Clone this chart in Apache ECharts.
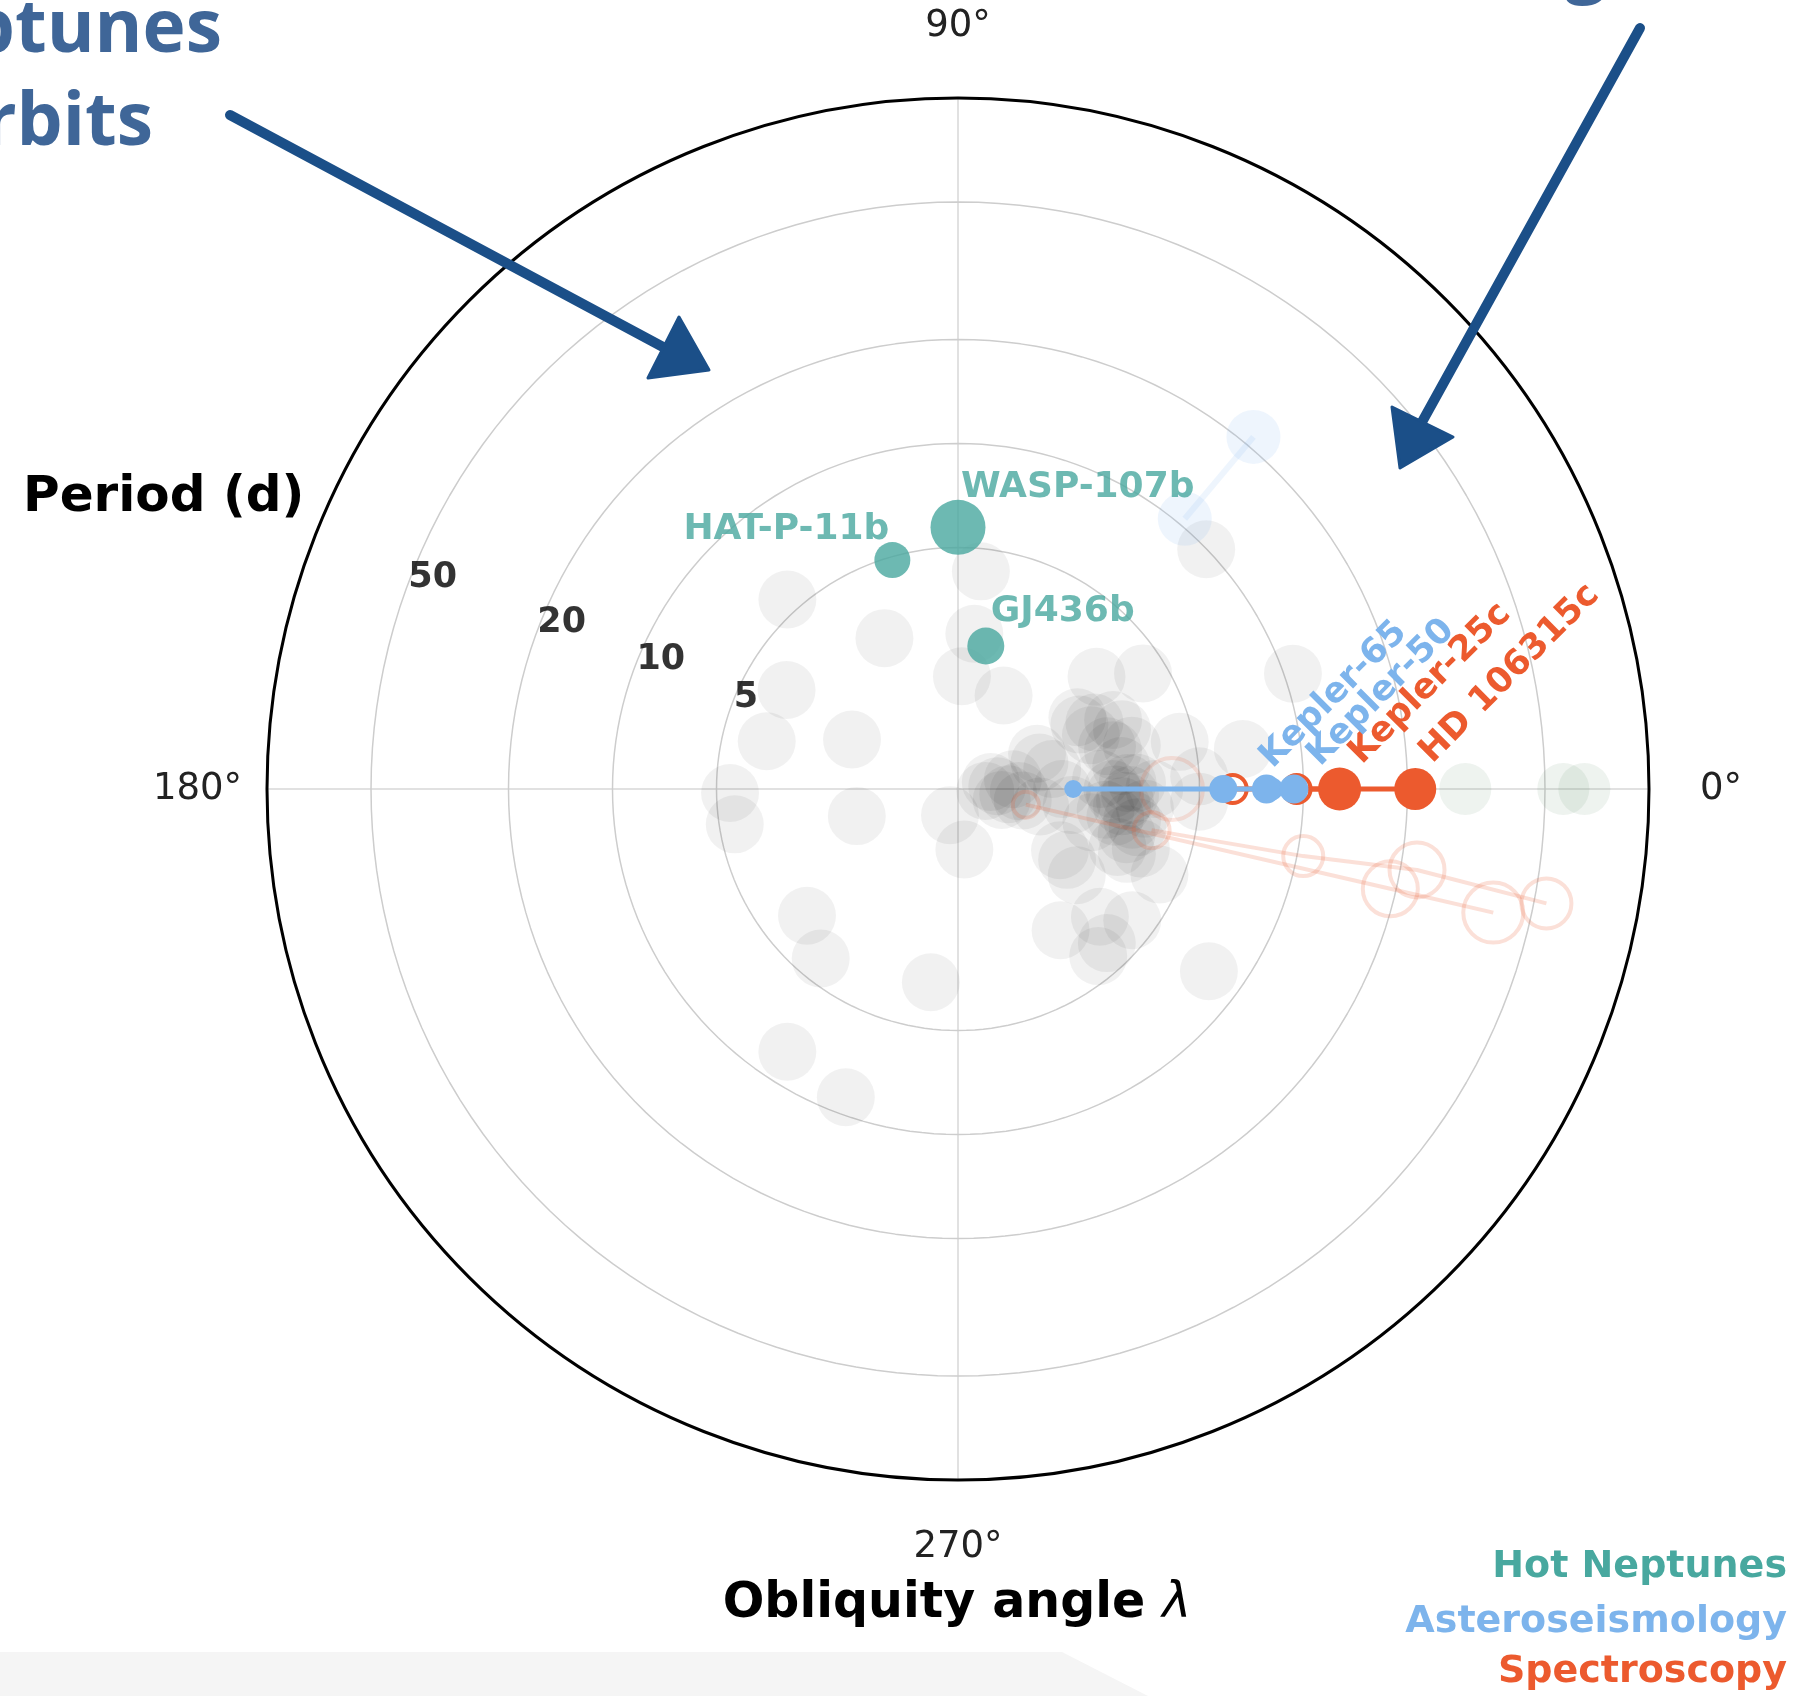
<!DOCTYPE html>
<html>
<head>
<meta charset="utf-8">
<script src="https://cdn.jsdelivr.net/npm/echarts@6/dist/echarts.min.js"></script>
<style>
  html, body { margin: 0; padding: 0; background: #ffffff; }
  #chart { width: 1793px; height: 1696px; }
</style>
</head>
<body>
<div id="chart"></div>
<script>
// ---- axis ticks ----
const periodTicks = [5, 10, 20, 50];          // days, log radial grid
const angleTicks = [0, 90, 180, 270];         // degrees

// ---- background population: period (d) and obliquity (deg) ----
const otherPeriods = [
  // scattered systems
  5.47, 3.06, 3.74, 3.72, 2.18, 4.57, 4.51, 2.01, 1.20, 1.50,
  3.72, 4.28, 3.67, 8.07, 8.90, 3.20, 4.30, 2.83, 2.12, 2.00,
  2.21, 2.66, 2.53, 4.28, 3.28, 4.53, 5.00, 6.80, 10.6, 2.38,
  3.34, 4.30, 3.57, 5.00, 7.90, 4.28, 4.28, 4.17, 9.97,
  // mildly misaligned hot Jupiters
  1.78, 1.77, 1.90, 3.10, 2.81, 2.50, 2.60, 3.30,
  // aligned hot Jupiters near 3 d
  3.05, 2.90, 3.20, 2.80, 3.30, 3.10, 2.70, 3.50, 3.00, 2.60,
  3.40, 3.60, 2.90, 3.20, 2.75, 3.70, 2.50, 3.15, 3.00, 3.10,
  2.85, 3.25,
  // aligned short periods
  1.30, 1.40, 1.25, 1.50, 1.35, 1.45, 1.55, 1.20,
  1.75, 2.00, 2.15
];
const otherLambda = [
  132, 116, 150, 166, 155, 181, 189, 195, 253, 276,
  220, 231, 262, 237, 250, -54, 84, 84, 88, 64,
  -31, -36, 31, 32, 39, 12, 3, 8, 19, -33,
  -21, -23, -42, -3, -36, -37, -50, -46, 44,
  24, 18, 12, 24, 16, 28, 22, 14,
  -4, -10, -15, 0, 2, -20, -8, -6, 8, 4,
  -12, -18, 14, 20, 26, 0, -14, -2, -6, 2,
  -2, -10,
  4, -6, 12, -2, -14, 10, -10, -4,
  -12, 0, -8
];

// ---- faint Neptune-size planets on the aligned axis ----
const paleNeptunePeriods = [29.4, 56.5, 65.0];
const paleNeptuneLambda = [0, 0, 0];

// ---- hot Neptunes ----
const hotNeptuneNames = ['WASP-107b', 'HAT-P-11b', 'GJ436b'];
const hotNeptunePeriods = [5.72, 4.89, 2.64];
const hotNeptuneLambda = [90, 106, 79];

// ---- asteroseismology systems ----
const kepler65Periods = [2.155, 5.859, 8.131];
const kepler65Lambda = [0, 0, 0];
const kepler50Periods = [7.81, 9.38];
const kepler50Lambda = [0, 0];
const kepler56Periods = [10.5, 21.4];
const kepler56Lambda = [50, 50];

// ---- spectroscopy systems ----
const kepler25Periods = [6.24, 12.72];
const kepler25Lambda = [0, 0];
const hd106315Periods = [9.55, 21.06];
const hd106315Lambda = [0, 0];
const kepler9Periods = [1.59, 19.24, 38.91];
const kepler9Lambda = [-13, -13, -13];
const kepler89Periods = [3.74, 10.42, 22.34, 54.32];
const kepler89Lambda = [-12, -11, -10, -11];
const wasp47Periods = [4.16];
const wasp47Lambda = [0];

// ---- colours & fonts ----
const TEAL = '#48a89f';
const BLUE = '#7db4ec';
const RED = '#ec5a2e';
const RED_FADED = 'rgba(236,90,46,0.19)';
const BLUE_FADED = 'rgba(125,180,236,0.13)';
const INK = '#3f6698';
const ARROW = '#1b4f88';
const FONT = 'DejaVu Sans';

const norm = a => ((a % 360) + 360) % 360;
const pairs = (periods, lambdas) => periods.map((p, i) => [p, norm(lambdas[i])]);

// ring samples for the period grid
const ringAngles = [];
for (let a = 0; a <= 360; a += 2) ringAngles.push(a);

const ringSeries = periodTicks.map(p => ({
  type: 'line', coordinateSystem: 'polar', silent: true, z: 1,
  symbol: 'none',
  lineStyle: { color: '#cdcdcd', width: 1.5 },
  data: ringAngles.map(a => [p, a])
}));

// symbol sizes for named planets
const markerSize = {
  'WASP-107b': 55, 'HAT-P-11b': 36, 'GJ436b': 37,
  'Kepler-65b': 18, 'Kepler-65c': 28, 'Kepler-65d': 22,
  'Kepler-50b': 29, 'Kepler-50c': 29,
  'Kepler-25b': 28, 'Kepler-25c': 43,
  'HD 106315b': 28, 'HD 106315c': 42
};

function boldLabel(text, color, size, pos, align, vAlign, rotate) {
  return {
    show: true, formatter: text, color: color,
    fontFamily: FONT, fontWeight: 'bold', fontSize: size,
    position: pos, align: align, verticalAlign: vAlign,
    rotate: rotate || 0
  };
}

// hot Neptune labels, relative to each marker box
const hotNeptuneLabelPos = {
  'WASP-107b': { pos: [30.5, -12], align: 'left' },
  'HAT-P-11b': { pos: [15, -12], align: 'right' },
  'GJ436b': { pos: [23.5, -16], align: 'left' }
};

const hotNeptuneData = hotNeptuneNames.map((n, i) => ({
  name: n,
  value: [hotNeptunePeriods[i], norm(hotNeptuneLambda[i])],
  symbolSize: markerSize[n],
  label: boldLabel(n, TEAL, 36, hotNeptuneLabelPos[n].pos, hotNeptuneLabelPos[n].align, 'middle')
}));

function systemPoints(names, periods, lambdas, color, openIdx, labelIdx, label) {
  return periods.map((p, i) => {
    const item = {
      name: names[i],
      value: [p, norm(lambdas[i])],
      symbolSize: markerSize[names[i]],
      itemStyle: openIdx.includes(i)
        ? { color: 'rgba(255,255,255,0)', borderColor: color, borderWidth: 4 }
        : { color: color, borderWidth: 0 }
    };
    if (i === labelIdx) item.label = label;
    return item;
  });
}

const series = [
  ...ringSeries,
  {
    name: 'Other planets', type: 'scatter', coordinateSystem: 'polar', z: 2, silent: true,
    symbolSize: 58,
    itemStyle: { color: 'rgba(0,0,0,0.068)' },
    data: pairs(otherPeriods, otherLambda)
  },
  {
    type: 'scatter', coordinateSystem: 'polar', z: 2, silent: true,
    symbolSize: 52,
    itemStyle: { color: 'rgba(90,140,95,0.13)' },
    data: pairs(paleNeptunePeriods, paleNeptuneLambda)
  },
  // earlier spectroscopic systems, drawn faint
  ...[[kepler9Periods, kepler9Lambda, [26, 55, 60]], [kepler89Periods, kepler89Lambda, [36, 40, 55, 50]]].map(([pp, ll, sz]) => ({
    type: 'line', coordinateSystem: 'polar', z: 3, silent: true,
    symbol: 'circle',
    lineStyle: { color: RED_FADED, width: 4 },
    itemStyle: { color: 'rgba(255,255,255,0)', borderColor: RED_FADED, borderWidth: 4 },
    data: pairs(pp, ll).map((v, i) => ({ value: v, symbolSize: sz[i] }))
  })),
  {
    type: 'scatter', coordinateSystem: 'polar', z: 3, silent: true,
    symbolSize: 62,
    itemStyle: { color: 'rgba(255,255,255,0)', borderColor: RED_FADED, borderWidth: 4 },
    data: pairs(wasp47Periods, wasp47Lambda)
  },
  {
    type: 'line', coordinateSystem: 'polar', z: 3, silent: true,
    symbol: 'circle', symbolSize: 54,
    lineStyle: { color: BLUE_FADED, width: 6 },
    itemStyle: { color: BLUE_FADED },
    data: pairs(kepler56Periods, kepler56Lambda)
  },
  // spectroscopy
  {
    name: 'Spectroscopy', type: 'line', coordinateSystem: 'polar', z: 4,
    symbol: 'circle', lineStyle: { color: RED, width: 5 },
    data: systemPoints(['Kepler-25b', 'Kepler-25c'], kepler25Periods, kepler25Lambda, RED, [0], 1,
      boldLabel('Kepler-25c', RED, 35, [49.5, 3.5], 'left', 'bottom', 45))
  },
  {
    name: 'Spectroscopy', type: 'line', coordinateSystem: 'polar', z: 4,
    symbol: 'circle', lineStyle: { color: RED, width: 5 },
    data: systemPoints(['HD 106315b', 'HD 106315c'], hd106315Periods, hd106315Lambda, RED, [0], 1,
      boldLabel('HD 106315c', RED, 35, [44, 2], 'left', 'bottom', 45))
  },
  // asteroseismology
  {
    name: 'Asteroseismology', type: 'line', coordinateSystem: 'polar', z: 5,
    symbol: 'circle', lineStyle: { color: BLUE, width: 5 },
    data: systemPoints(['Kepler-65b', 'Kepler-65c', 'Kepler-65d'], kepler65Periods, kepler65Lambda, BLUE, [], 2,
      boldLabel('Kepler-65', BLUE, 35, [17, -3], 'left', 'bottom', 45))
  },
  {
    name: 'Asteroseismology', type: 'line', coordinateSystem: 'polar', z: 5,
    symbol: 'circle', lineStyle: { color: BLUE, width: 5 },
    data: systemPoints(['Kepler-50b', 'Kepler-50c'], kepler50Periods, kepler50Lambda, BLUE, [], 1,
      boldLabel('Kepler-50', BLUE, 35, [46.5, -1.5], 'left', 'bottom', 45))
  },
  // hot Neptunes
  {
    name: 'Hot Neptunes', type: 'scatter', coordinateSystem: 'polar', z: 6,
    itemStyle: { color: TEAL },
    data: hotNeptuneData
  },
  // period tick labels along the 157.5 degree ray
  {
    type: 'scatter', coordinateSystem: 'polar', z: 7, silent: true,
    symbolSize: 0,
    data: periodTicks.map((p, i) => ({
      value: [p, 157.5],
      label: {
        show: true, formatter: String(p), position: 'inside',
        offset: [[11, 1], [22, 3], [19, 6], [17, 14]][i],
        color: '#000', fontFamily: FONT, fontWeight: 'bold', fontSize: 35
      }
    }))
  }
];

// annotation arrows
function arrow(tail, baseMid, head) {
  return [
    { type: 'line', shape: { x1: tail[0], y1: tail[1], x2: baseMid[0], y2: baseMid[1] },
      style: { stroke: ARROW, lineWidth: 10, lineCap: 'round' }, z: 20 },
    { type: 'polygon', shape: { points: head }, style: { fill: ARROW, stroke: ARROW, lineWidth: 3, lineJoin: 'round' }, z: 20 }
  ];
}

const textEl = (text, x, y, font, fill, align) => ({
  type: 'text', x: x, y: y, z: 20,
  style: { text: text, font: font, fill: fill, align: align, verticalAlign: 'middle' }
});

const graphics = [
  { type: 'polygon', z: 0, shape: { points: [[0, 1652], [1062, 1652], [1148, 1696], [0, 1696]] },
    style: { fill: '#f5f5f5' } },
  textEl('Neptunes', 222, 31, 'bold 73px "Open Sans"', INK, 'right'),
  textEl('orbits', 153, 124, 'bold 73px "Open Sans"', INK, 'right'),
  textEl('aligned', 1476, -33, 'bold 73px "Open Sans"', INK, 'left'),
  ...arrow([230, 115], [663, 347], [[679, 317], [709, 370], [648, 378]]),
  ...arrow([1640, 28], [1422, 422], [[1392, 407], [1453, 437], [1400, 468]]),
  textEl('Period (d)', 23, 498, 'bold 50px "DejaVu Sans"', '#000', 'left'),
  {
    type: 'text', x: 957, y: 1604, z: 20,
    style: {
      text: '{a|Obliquity angle }{b|λ}', align: 'center', verticalAlign: 'middle',
      rich: {
        a: { fontFamily: FONT, fontWeight: 'bold', fontSize: 49, fill: '#000', color: '#000' },
        b: { fontFamily: FONT, fontStyle: 'italic', fontWeight: 'normal', fontSize: 49, fill: '#000', color: '#000' }
      }
    }
  },
  textEl('Hot Neptunes', 1787, 1567, 'bold 38px "DejaVu Sans"', TEAL, 'right'),
  textEl('Asteroseismology', 1787, 1622, 'bold 38px "DejaVu Sans"', BLUE, 'right'),
  textEl('Spectroscopy', 1787, 1672, 'bold 38px "DejaVu Sans"', RED, 'right')
];

// angle tick label styles (padding centres each label on a common circle)
const angleLabelFont = { fontFamily: FONT, fontSize: 37, color: '#222' };
const angleRich = {
  a0: Object.assign({ padding: [0, 0, 0, 26] }, angleLabelFont),
  a90: Object.assign({ padding: [0, 0, 28, 0] }, angleLabelFont),
  a180: Object.assign({ padding: [0, 0, 0, 0] }, angleLabelFont),
  a270: Object.assign({ padding: [24, 0, 0, 0] }, angleLabelFont)
};

const chart = echarts.init(document.getElementById('chart'), null, { renderer: 'canvas', width: 1793, height: 1696 });
chart.setOption({
  animation: false,
  backgroundColor: '#ffffff',
  polar: { center: [958, 789], radius: 691 },
  angleAxis: {
    type: 'value', min: 0, max: 360, interval: 90,
    startAngle: 0, clockwise: false,
    axisLine: { show: true, lineStyle: { color: '#000', width: 3 } },
    axisTick: { show: false },
    axisLabel: {
      show: true, margin: 25,
      formatter: v => angleTicks.includes(v) ? '{a' + v + '|' + v + '°}' : '',
      rich: angleRich,
      fontFamily: FONT, fontSize: 37, color: '#222'
    },
    splitLine: { show: true, lineStyle: { color: '#d8d8d8', width: 1.5 } }
  },
  radiusAxis: {
    type: 'log', logBase: 10, min: 1, max: 100,
    axisLine: { show: false }, axisTick: { show: false },
    axisLabel: { show: false }, splitLine: { show: false }
  },
  series: series,
  graphic: graphics
});
</script>
</body>
</html>
